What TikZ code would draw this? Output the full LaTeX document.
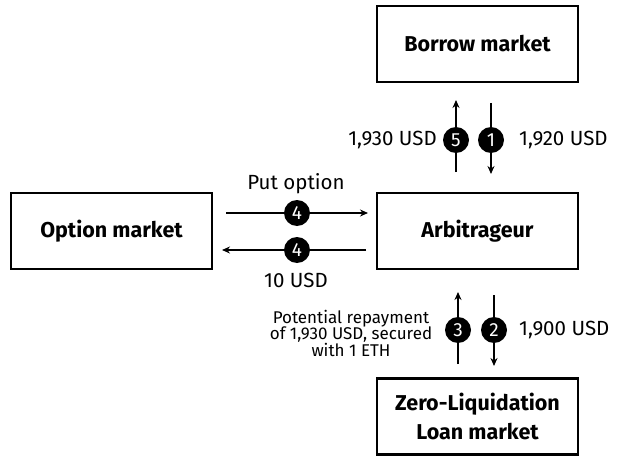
\documentclass[tikz,border=0pt]{standalone}
\usepackage{fontspec}
\setmainfont{Fira Sans}
\usetikzlibrary{arrows.meta}

\tikzset{
  market/.style={draw,line width=2.4pt,minimum width=201pt,minimum height=76pt,
    inner sep=0pt,align=center,font=\fontsize{21.5}{29.5}\selectfont\bfseries},
  flow/.style={line width=1.8pt,-{Stealth[length=8pt,width=7pt]}},
  stepno/.style={circle,fill=black,text=white,minimum size=26pt,inner sep=0pt,
    font=\fontsize{19}{19}\selectfont},
  amount/.style={inner sep=0pt,font=\fontsize{20.5}{24}\selectfont}
}

\begin{document}
\begin{tikzpicture}[x=1pt,y=1pt,yscale=-1,xscale=1]
\useasboundingbox (0,0) rectangle (622,460);

%Boxes
\node[market] (borrow) at (477.5,44) {Borrow market};
\node[market] (arb) at (477.5,231) {Arbitrageur};
\node[market] (opt) at (111.5,231) {Option market};
\node[market] (zero) at (477.5,416.5) {Zero-Liquidation\\Loan market};

%Borrow market flows
\coordinate (b5s) at (456,172);
\coordinate (b5e) at (456,100);
\coordinate (b1s) at (491,103);
\coordinate (b1e) at (491,174);
\draw[flow] (b5s) -- (b5e);
\draw[flow] (b1s) -- (b1e);
\node[stepno] (n5) at (456,140) {5};
\node[stepno] (n1) at (491,140) {1};
\node[amount,anchor=east] (l5) at (437,140) {1,930 USD};
\node[amount,anchor=west] (l1) at (519,140) {1,920 USD};

%Option market flows
\coordinate (o4s) at (226,213);
\coordinate (o4e) at (368,213);
\coordinate (p4s) at (366,250);
\coordinate (p4e) at (222,250);
\draw[flow] (o4s) -- (o4e);
\draw[flow] (p4s) -- (p4e);
\node[stepno] (n4a) at (297,213) {4};
\node[stepno] (n4b) at (297,250) {4};
\node[amount] (lput) at (296,184) {Put option};
\node[amount] (lten) at (296,280) {10 USD};

%Zero-liquidation flows
\coordinate (z3s) at (458,364);
\coordinate (z3e) at (458,292);
\coordinate (z2s) at (494,295);
\coordinate (z2e) at (494,366);
\draw[flow] (z3s) -- (z3e);
\draw[flow] (z2s) -- (z2e);
\node[stepno] (n3) at (458,330) {3};
\node[stepno] (n2) at (494,330) {2};
\node[inner sep=0pt,align=center,font=\fontsize{17}{16.5}\selectfont] (l3) at (351,333)
  {Potential repayment\\of 1,930 USD, secured\\with 1 ETH};
\node[amount,anchor=west] (l2) at (519,330) {1,900 USD};
\end{tikzpicture}
\end{document}
